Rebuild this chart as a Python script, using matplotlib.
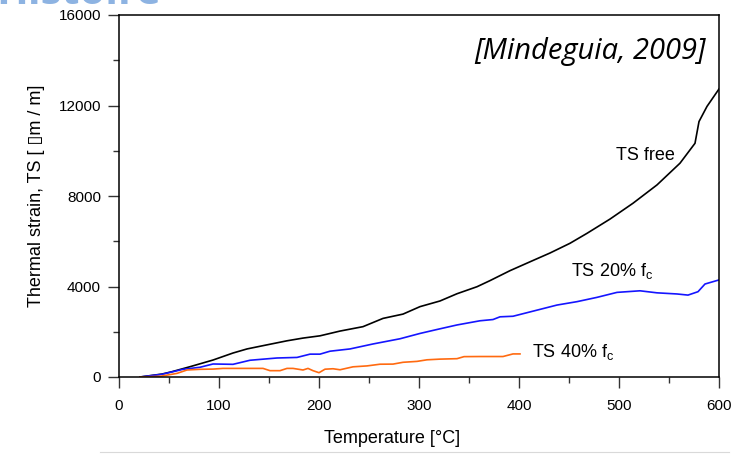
import matplotlib
matplotlib.use("Agg")
import matplotlib.pyplot as plt
from matplotlib.ticker import MultipleLocator
from matplotlib.lines import Line2D

# TS free (black)
t_free = [21, 43, 53, 71, 94, 114, 128, 144, 168, 184, 201, 221, 244, 264, 284, 301, 321,
          338, 358, 371, 391, 414, 431, 451, 468, 491, 514, 538, 561, 576, 580, 588, 600]
ts_free = [0, 130, 235, 455, 750, 1060, 1240, 1385, 1600, 1720, 1820, 2030, 2225, 2590, 2780,
           3110, 3360, 3680, 3990, 4260, 4700, 5150, 5480, 5910, 6350, 6980, 7680, 8490,
           9450, 10330, 11290, 11960, 12730]

# TS 20% fc (blue)
t_20 = [21, 43, 64, 81, 94, 114, 131, 158, 178, 191, 201, 211, 231, 254, 281, 301, 318, 338,
        361, 374, 381, 394, 414, 438, 458, 478, 498, 521, 538, 558, 569, 579, 586, 600]
ts_20 = [0, 120, 340, 430, 575, 560, 740, 840, 865, 1010, 1010, 1140, 1240, 1460, 1690, 1925,
         2100, 2300, 2485, 2540, 2660, 2685, 2910, 3180, 3330, 3520, 3740, 3810, 3720, 3670,
         3620, 3770, 4110, 4290]

# TS 40% fc (orange)
t_40 = [21, 41, 58, 68, 81, 94, 104, 144, 151, 161, 168, 174, 184, 189, 194, 200, 206, 214,
        221, 234, 248, 261, 274, 284, 298, 308, 321, 338, 345, 361, 384, 394, 401]
ts_40 = [0, 30, 160, 310, 340, 350, 380, 380, 280, 280, 380, 380, 310, 380, 280, 190, 345,
         365, 320, 450, 490, 565, 570, 650, 690, 760, 790, 810, 900, 905, 905, 1020, 1020]

x_ticks = [0, 100, 200, 300, 400, 500, 600]
y_ticks = [0, 4000, 8000, 12000, 16000]

plt.rcParams['font.family'] = ['Liberation Sans', 'DejaVu Sans']

fig = plt.figure(figsize=(7.33, 4.58), dpi=100)
ax = fig.add_axes([119 / 733, 1 - 377 / 458, 600 / 733, 362 / 458])

ax.plot(t_free, ts_free, color='black', lw=1.2)
ax.plot(t_20, ts_20, color='#1515ff', lw=1.2)
ax.plot(t_40, ts_40, color='#ff6a10', lw=1.2)

ax.set_xlim(0, 600)
ax.set_ylim(0, 16000)
ax.set_xticks(x_ticks)
ax.set_yticks(y_ticks)
ax.xaxis.set_minor_locator(MultipleLocator(50))
ax.yaxis.set_minor_locator(MultipleLocator(2000))
ax.tick_params(which='major', length=8, width=1, color='#333333', labelsize=11, pad=5)
ax.tick_params(which='minor', length=4, width=1, color='#333333')
ax.tick_params(axis='x', which='major', pad=8)

for s in ax.spines.values():
    s.set_linewidth(1.1)

ax.set_xlabel('Temperature [°C]', fontsize=13)
ax.xaxis.set_label_coords((392 - 119) / 600, -(430 - 377) / 362)
ax.set_ylabel('Thermal strain, TS [ \u25afm / m]', fontsize=13, labelpad=10)

# curve labels
ax.text(526, 9770, 'TS free', fontsize=13, va='center', ha='center')
ax.text(452, 4690, 'TS 20% f$_\\mathregular{c}$', fontsize=13, va='center', ha='left')
ax.text(413, 1100, 'TS 40% f$_\\mathregular{c}$', fontsize=13, va='center', ha='left')

ax.text(0.978, 0.9, '[Mindeguia, 2009]', transform=ax.transAxes, fontsize=21,
        fontstyle='italic', family='Open Sans', ha='right', va='center')

# slide remnants: cut-off heading and faint frame line
fig.text(-0.005, 1 - 4 / 458, 'Histoire', fontsize=30, fontweight='bold',
         family='Open Sans', color='#8db3e2', ha='left', va='baseline')
fig.add_artist(Line2D([100 / 733, 729 / 733], [1 - 452 / 458, 1 - 452 / 458],
                      color='#d9d9d9', lw=0.8))

fig.savefig('out.png', dpi=100)
